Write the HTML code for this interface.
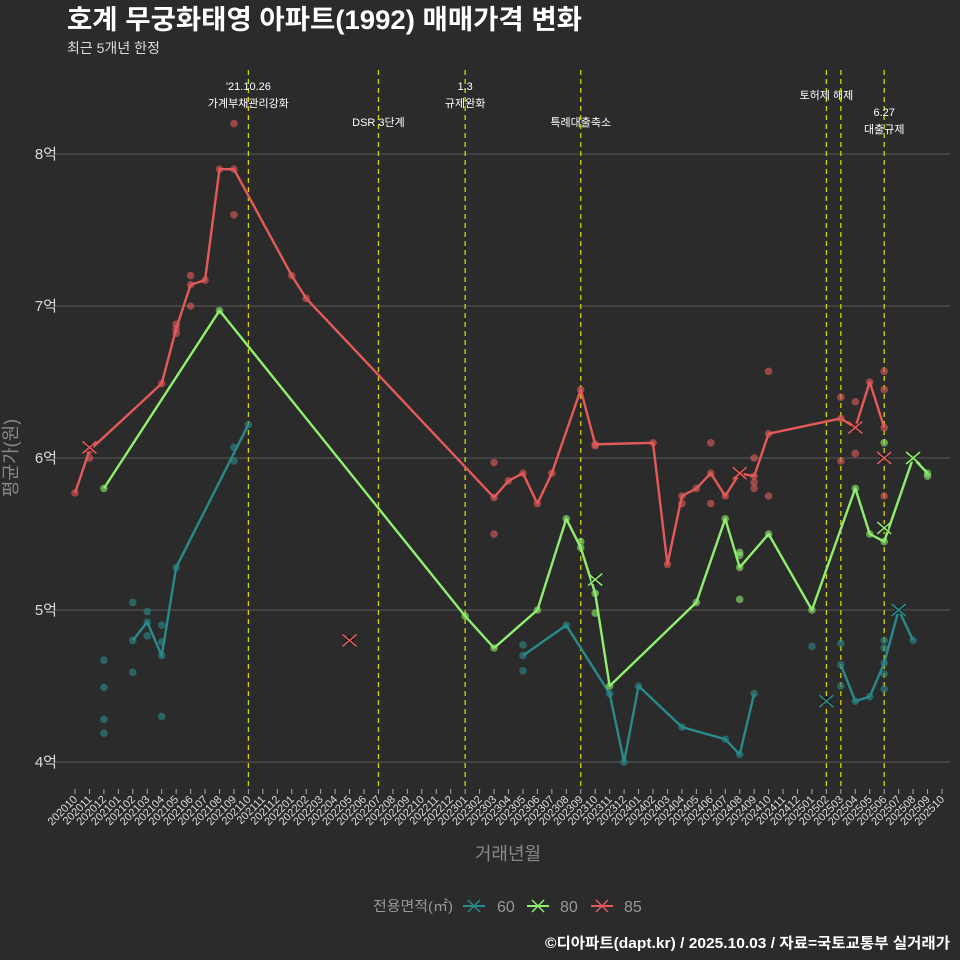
<!DOCTYPE html>
<html><head><meta charset="utf-8">
<style>
html,body{margin:0;padding:0;background:#2b2b2b;}
svg{display:block;font-family:"Liberation Sans","Noto Sans CJK KR",sans-serif;}
</style></head>
<body>
<svg id="chart" width="960" height="960" viewBox="0 0 960 960">
<rect x="0" y="0" width="960" height="960" fill="#2b2b2b"/>
<text x="67" y="29" fill="#ffffff" font-size="27" font-weight="bold" textLength="515" lengthAdjust="spacingAndGlyphs">호계 무궁화태영 아파트(1992) 매매가격 변화</text>
<text x="67" y="53" fill="#dddddd" font-size="14">최근 5개년 한정</text>
<g id="grid"></g>
<g id="ylabels"></g>
<g id="events"></g>
<g id="series"></g>
<g id="xaxis"></g>
<text x="17" y="458" fill="#888888" font-size="18" text-anchor="middle" transform="rotate(-90 17 458)">평균가(원)</text>
<text x="508" y="860" fill="#888888" font-size="18" text-anchor="middle">거래년월</text>
<g>
<text x="373" y="911" fill="#999999" font-size="14" textLength="80" lengthAdjust="spacingAndGlyphs">전용면적(㎡)</text>
<g><line x1="463" y1="906" x2="485" y2="906" stroke="#2a8a8a" stroke-width="2"/><path d="M468 900 L480 912 M480 900 L468 912" stroke="#2a8a8a" stroke-width="1.5"/><text x="497" y="912" fill="#999999" font-size="16">60</text></g>
<g><line x1="527" y1="906" x2="549" y2="906" stroke="#90ee70" stroke-width="2"/><path d="M532 900 L544 912 M544 900 L532 912" stroke="#90ee70" stroke-width="1.5"/><text x="560" y="912" fill="#999999" font-size="16">80</text></g>
<g><line x1="591" y1="906" x2="613" y2="906" stroke="#e45a5a" stroke-width="2"/><path d="M596 900 L608 912 M608 900 L596 912" stroke="#e45a5a" stroke-width="1.5"/><text x="624" y="912" fill="#999999" font-size="16">85</text></g>
</g>
<text x="950" y="948" fill="#ffffff" font-size="15" font-weight="bold" text-anchor="end" textLength="405" lengthAdjust="spacingAndGlyphs">©디아파트(dapt.kr) / 2025.10.03 / 자료=국토교통부 실거래가</text>
</svg>
<script>
const NS="http://www.w3.org/2000/svg";
const months=[];for(let y=2020,m=10;months.length<61;){months.push(y+String(m).padStart(2,'0'));m++;if(m>12){m=1;y++;}}
const yTicks=[4,5,6,7,8];
const yTickLabels=["4억","5억","6억","7억","8억"];
// line series: [monthIndex, value(억)]
const red85=[[0,5.77],[1,6.05],[6,6.49],[7,6.85],[8,7.14],[9,7.17],[10,7.9],[11,7.9],[15,7.2],[16,7.05],[29,5.74],[30,5.85],[31,5.9],[32,5.7],[33,5.9],[35,6.45],[36,6.09],[40,6.1],[41,5.3],[42,5.75],[43,5.8],[44,5.9],[45,5.75],[46,5.9],[47,5.88],[48,6.16],[53,6.26],[54,6.2],[55,6.5],[56,6.2]];
const green80=[[2,5.8],[10,6.97],[27,4.96],[29,4.75],[32,5.0],[34,5.6],[35,5.41],[36,5.11],[37,4.5],[43,5.05],[45,5.6],[46,5.28],[48,5.5],[51,5.0],[54,5.8],[55,5.5],[56,5.45],[58,6.0],[59,5.9]];
const teal60a=[[4,4.8],[5,4.92],[6,4.7],[7,5.28],[12,6.22]];
const teal60b=[[31,4.7],[34,4.9],[37,4.45],[38,4.0],[39,4.5],[42,4.23],[45,4.15],[46,4.05],[47,4.45]];
const teal60c=[[53,4.64],[54,4.4],[55,4.43],[56,4.65],[57,5.0],[58,4.8]];
// individual transactions
const redDots=[[1,6.0],[7,6.82],[7,6.88],[8,7.0],[8,7.2],[11,7.6],[11,8.2],[29,5.97],[29,5.5],[36,6.08],[42,5.7],[44,6.1],[44,5.7],[47,6.0],[47,5.84],[47,5.8],[48,5.75],[48,6.57],[53,6.4],[53,5.98],[54,6.37],[54,6.03],[56,6.57],[56,6.45],[56,5.75]];
const greenDots=[[35,5.45],[36,4.98],[46,5.38],[46,5.36],[46,5.07],[56,6.1],[59,5.88]];
const tealDots=[[2,4.67],[2,4.49],[2,4.28],[2,4.19],[4,5.05],[4,4.59],[5,4.99],[5,4.83],[6,4.9],[6,4.79],[6,4.3],[11,6.07],[11,5.98],[31,4.77],[31,4.6],[51,4.76],[53,4.78],[53,4.5],[56,4.8],[56,4.75],[56,4.58],[56,4.48]];
const redX=[[1,6.07],[19,4.8],[46,5.9],[54,6.2],[56,6.0]];
const greenX=[[36,5.2],[56,5.54],[58,6.0]];
const tealX=[[52,4.4],[57,5.0]];
const eventMonths=[12,21,27,35,52,53,56];
const eventLabels=[["'21.10.26","가계부채관리강화"],["DSR 3단계"],["1.3","규제완화"],["특례대출축소"],["토허제 해제"],[],["6.27","대출규제"]];
const eventLabelY=[90,126,90,126,99,0,116];

const X=m=>75+m*14.45;
const Y=v=>154+(8-v)*152;
function el(t,a,p){const e=document.createElementNS(NS,t);for(const k in a)e.setAttribute(k,a[k]);p.appendChild(e);return e;}
const grid=document.getElementById('grid'),yl=document.getElementById('ylabels');
yTicks.forEach((v,i)=>{
 const l=el('line',{x1:55,x2:950,y1:Y(v),y2:Y(v),stroke:'#595959','stroke-width':1},grid);
 
 
 const t=el('text',{x:57,y:Y(v)+5,fill:'#dddddd','font-size':15,'text-anchor':'end'},yl);
 t.textContent=yTickLabels[i];
 
 
});
const ev=document.getElementById('events');
eventMonths.forEach((m,i)=>{
 const l=el('line',{x1:X(m),x2:X(m),y1:70,y2:790,stroke:'#d4d400','stroke-width':1.3,'stroke-dasharray':'5,4'},ev);
 
 
 eventLabels[i].forEach((s,j)=>{
  const t=el('text',{x:X(m),y:eventLabelY[i]+j*17,fill:'#ffffff','font-size':11,'text-anchor':'middle'},ev);
  t.textContent=s;
  
  
 });
});
const ser=document.getElementById('series');
function dots(arr,c,name){arr.forEach(p=>{const d=el('circle',{cx:X(p[0]),cy:Y(p[1]),r:3.8,fill:c,'fill-opacity':0.6},ser);
 
 });}
function line(arr,c,name){const pl=el('polyline',{points:arr.map(p=>X(p[0])+','+Y(p[1])).join(' '),fill:'none',stroke:c,'stroke-width':2.4,'stroke-linejoin':'round'},ser);
 
 
 arr.forEach(p=>{const d=el('circle',{cx:X(p[0]),cy:Y(p[1]),r:3.8,fill:c,'fill-opacity':0.6},ser);
 
 });}
function xs(arr,c,name){arr.forEach(p=>{const x=X(p[0]),y=Y(p[1]);
 const b=el('rect',{x:x-4,y:y-4,width:8,height:8,fill:'#111','fill-opacity':0.7},ser);
 
 
 const g=el('path',{d:`M${x-7} ${y-6}L${x+7} ${y+6}M${x+7} ${y-6}L${x-7} ${y+6}`,stroke:c,'stroke-width':1.5},ser);
 
 });}
const cT='#2a8a8a',cG='#90ee70',cR='#e45a5a';
dots(tealDots,cT,'dot-60');dots(greenDots,cG,'dot-80');dots(redDots,cR,'dot-85');
line(teal60a,cT,'line-60-a');line(teal60b,cT,'line-60-b');line(teal60c,cT,'line-60-c');
line(green80,cG,'line-80');line(red85,cR,'line-85');
xs(tealX,cT,'marker-x-60');xs(greenX,cG,'marker-x-80');xs(redX,cR,'marker-x-85');
const xa=document.getElementById('xaxis');
months.forEach((s,m)=>{const x=X(m);
 const tk=el('line',{x1:x,x2:x,y1:789,y2:794,stroke:'#aaaaaa','stroke-width':1},xa);
 
 
 const t=el('text',{x:x+3,y:800,fill:'#dddddd','font-size':11,'text-anchor':'end',transform:`rotate(-45 ${x+3} 800)`},xa);
 t.textContent=s;
 
 
});
</script>
</body></html>
